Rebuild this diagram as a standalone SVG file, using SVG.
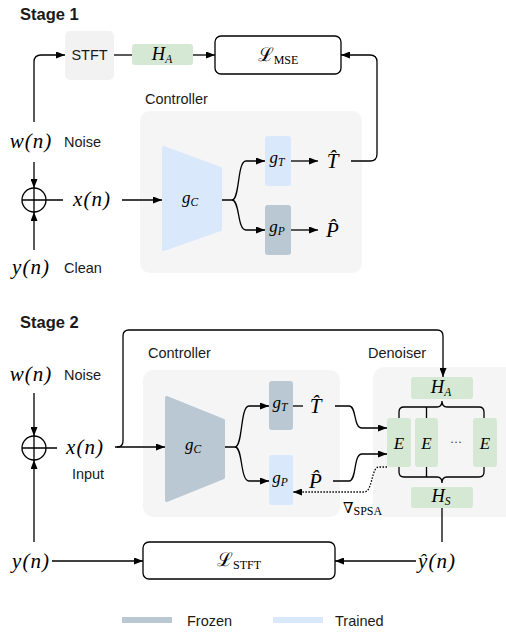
<svg xmlns="http://www.w3.org/2000/svg" width="506" height="632" viewBox="0 0 506 632">
<defs>
<marker id="arr" markerWidth="9" markerHeight="7" refX="9" refY="3.5" orient="auto" markerUnits="userSpaceOnUse"><path d="M0,0 L9,3.5 L0,7 z" fill="#000"/></marker>
<style>
.t{font-family:"Liberation Sans",Arial,sans-serif;font-size:14.5px;fill:#1a1a1a}
.h{font-family:"Liberation Sans",Arial,sans-serif;font-size:16.5px;font-weight:bold;fill:#1a1a1a}
.m{font-family:"Liberation Serif","Times New Roman",serif;font-style:italic;font-size:21px;fill:#000;letter-spacing:1px}
.ms{font-family:"Liberation Serif","Times New Roman",serif;font-style:italic;font-size:17px;fill:#000}
.mh{font-family:"Liberation Serif","Times New Roman",serif;font-style:italic;font-size:18.5px;fill:#000}
.sub{font-size:11.5px}
.rm{font-family:"Liberation Serif","Times New Roman",serif;font-style:normal;font-size:12px}
.c{fill:none;stroke:#000;stroke-width:1.3}
.a{marker-end:url(#arr)}
.bg{fill:#f5f5f5}
.fr{fill:#bac8d3}
.tr{fill:#dae8fc}
.gr{fill:#d5e8d4}
.loss{fill:#fff;stroke:#000;stroke-width:1.3}
</style>
</defs>

<!-- Stage 1 -->
<text class="h" x="20" y="20">Stage 1</text>

<g id="s1-controller-bg"><rect class="bg" x="140" y="111" width="222" height="162" rx="10"/><text class="t" x="145" y="104">Controller</text></g>
<g id="s1-stft"><rect x="65" y="31" width="49" height="49" rx="5" fill="#f2f2f2"/><text class="t" x="89.5" y="60" text-anchor="middle">STFT</text></g>
<g id="s1-ha"><rect class="gr" x="132" y="44" width="61" height="21" rx="3"/><text class="mh" x="162" y="60" text-anchor="middle">H<tspan class="sub" dy="3">A</tspan></text></g>
<g id="s1-lmse"><rect class="loss" x="215" y="36" width="126" height="38" rx="6"/><text x="278" y="61" text-anchor="middle" font-family="DejaVu Serif,serif" font-size="19">ℒ<tspan class="rm" dy="3">MSE</tspan></text></g>
<g id="s1-wn"><text class="m" x="31" y="148" text-anchor="middle">w(n)</text><text class="t" x="64" y="147">Noise</text></g>
<g id="s1-yn"><text class="m" x="31" y="274" text-anchor="middle">y(n)</text><text class="t" x="64" y="273">Clean</text></g>
<g id="s1-sum"><circle cx="34" cy="200" r="12" fill="none" stroke="#000" stroke-width="1.3"/><path class="c" d="M34,188 V212 M22,200 H63"/></g>
<g id="s1-xn"><text class="m" x="92" y="206" text-anchor="middle">x(n)</text></g>
<g id="s1-gc"><polygon class="tr" points="163.5,147.5 220.5,168.5 220.5,229.5 163.5,249.5" stroke="#dae8fc" stroke-width="3" stroke-linejoin="round"/><text class="ms" x="190" y="203" text-anchor="middle">g<tspan class="sub" dy="3">C</tspan></text></g>
<g id="s1-gt"><rect class="tr" x="265" y="136" width="26" height="50" rx="3"/><text class="ms" x="277" y="163" text-anchor="middle">g<tspan class="sub" dy="3">T</tspan></text></g>
<g id="s1-gp"><rect class="fr" x="265" y="205" width="26" height="50" rx="3"/><text class="ms" x="277" y="232" text-anchor="middle">g<tspan class="sub" dy="3">P</tspan></text></g>
<g id="s1-that"><text class="m" x="333" y="168" text-anchor="middle">T&#x302;</text></g>
<g id="s1-phat"><text class="m" x="333" y="237" text-anchor="middle">P&#x302;</text></g>

<g id="s1-connectors">
<path class="c a" d="M34,122 V62 Q34,55 41,55 H65"/>
<path class="c" d="M114,55 H132"/>
<path class="c a" d="M193,55 H215"/>
<path class="c a" d="M351,161 H370 Q377,161 377,154 V62 Q377,55 370,55 H341"/>
<path class="c a" d="M34,162 V188"/>
<path class="c a" d="M34,250 V212"/>
<path class="c a" d="M122,200 H162"/>
<path class="c a" d="M222,200 H232 C240,200 237,161 246,161 H265"/>
<path class="c a" d="M232,200 C240,200 237,230 246,230 H265"/>
<path class="c a" d="M291,161 H318"/>
<path class="c a" d="M291,230 H318"/>
</g>

<!-- Stage 2 -->
<text class="h" x="20" y="328">Stage 2</text>

<g id="s2-controller-bg"><rect class="bg" x="143" y="370" width="197" height="147" rx="10"/><text class="t" x="148" y="358">Controller</text></g>
<g id="s2-denoiser-bg"><rect class="bg" x="373" y="367" width="150" height="150" rx="12"/><text class="t" x="368" y="358">Denoiser</text></g>
<g id="s2-wn"><text class="m" x="31" y="381" text-anchor="middle">w(n)</text><text class="t" x="64" y="380">Noise</text></g>
<g id="s2-sum"><circle cx="34" cy="448" r="12" fill="none" stroke="#000" stroke-width="1.3"/><path class="c" d="M34,436 V460 M22,448 H57"/></g>
<g id="s2-xn"><text class="m" x="85" y="454" text-anchor="middle">x(n)</text><text class="t" x="88" y="479" text-anchor="middle">Input</text></g>
<g id="s2-gc"><polygon class="fr" points="166.5,397.5 223.5,420.5 223.5,477.5 166.5,500.5" stroke="#bac8d3" stroke-width="3" stroke-linejoin="round"/><text class="ms" x="193" y="450" text-anchor="middle">g<tspan class="sub" dy="3">C</tspan></text></g>
<g id="s2-gt"><rect class="fr" x="269" y="381" width="24" height="49" rx="3"/><text class="ms" x="280" y="408" text-anchor="middle">g<tspan class="sub" dy="3">T</tspan></text></g>
<g id="s2-gp"><rect class="tr" x="269" y="455" width="24" height="50" rx="3"/><text class="ms" x="280" y="483" text-anchor="middle">g<tspan class="sub" dy="3">P</tspan></text></g>
<g id="s2-that"><text class="m" x="316" y="413" text-anchor="middle">T&#x302;</text></g>
<g id="s2-phat"><text class="m" x="316" y="488" text-anchor="middle">P&#x302;</text></g>
<g id="s2-ha"><rect class="gr" x="411" y="377" width="62" height="22" rx="3"/><text class="mh" x="441" y="393" text-anchor="middle">H<tspan class="sub" dy="3">A</tspan></text></g>
<g id="s2-hs"><rect class="gr" x="411" y="487" width="62" height="21" rx="3"/><text class="mh" x="441" y="502" text-anchor="middle">H<tspan class="sub" dy="3">S</tspan></text></g>
<g id="s2-e1"><rect class="gr" x="387" y="418" width="24" height="49" rx="3"/><text class="ms" x="399" y="449" text-anchor="middle" font-size="19">E</text></g>
<g id="s2-e2"><rect class="gr" x="415" y="418" width="23" height="49" rx="3"/><text class="ms" x="426.5" y="449" text-anchor="middle" font-size="19">E</text></g>
<g id="s2-dots"><text x="456" y="446" text-anchor="middle" font-family="Liberation Serif,serif" font-size="12" fill="#333">···</text></g>
<g id="s2-e3"><rect class="gr" x="473" y="418" width="24" height="49" rx="3"/><text class="ms" x="485" y="449" text-anchor="middle" font-size="19">E</text></g>
<g id="s2-spsa"><text x="343" y="513" font-family="DejaVu Serif,serif" font-size="15" fill="#000">∇<tspan class="rm" dy="2">SPSA</tspan></text></g>
<g id="s2-lstft"><rect class="loss" x="143" y="542" width="192" height="37" rx="6"/><text x="239" y="566" text-anchor="middle" font-family="DejaVu Serif,serif" font-size="19">ℒ<tspan class="rm" dy="3">STFT</tspan></text></g>
<g id="s2-yn"><text class="m" x="31" y="568" text-anchor="middle">y(n)</text></g>
<g id="s2-yhat"><text class="m" x="437" y="568" text-anchor="middle">ŷ(n)</text></g>

<g id="s2-connectors">
<path class="c a" d="M34,393 V436"/>
<path class="c a" d="M34,542 V460"/>
<path class="c a" d="M115,447 H165"/>
<path class="c a" d="M117,447 Q123,447 123,441 V336 Q123,330 129,330 H437 Q443,330 443,336 V377"/>
<path class="c a" d="M225,447 H235 C243,447 240,406 249,406 H269"/>
<path class="c a" d="M235,447 C243,447 240,481 249,481 H269"/>
<path class="c" d="M293,406 H303"/>
<path class="c a" d="M335,406 H349 C357,406 353,428 362,428 H387"/>
<path class="c a" d="M333,481 H349 C357,481 353,454 362,454 H387"/>
<path class="c a" d="M387,467 H379 C371,467 373,492 364,492 H293" stroke-dasharray="1.5,1.5"/>
<path class="c" d="M399,418 V412 Q399,407 404,407 H437 Q442,407 442,401 Q442,407 447,407 H479 Q484,407 484,412 V418 M426.5,407 V418"/>
<path class="c" d="M399,467 V472 Q399,477 404,477 H437 Q442,477 442,483 Q442,477 447,477 H479 Q484,477 484,472 V467 M426.5,477 V467"/>
<path class="c" d="M442,508 V542"/>
<path class="c a" d="M416,561 H335"/>
<path class="c a" d="M52,561 H143"/>
</g>

<!-- Legend -->
<g id="legend-frozen"><rect class="fr" x="122" y="617" width="50" height="6"/><text class="t" x="187" y="626">Frozen</text></g>
<g id="legend-trained"><rect class="tr" x="273" y="617" width="50" height="6"/><text class="t" x="335" y="626">Trained</text></g>
</svg>
